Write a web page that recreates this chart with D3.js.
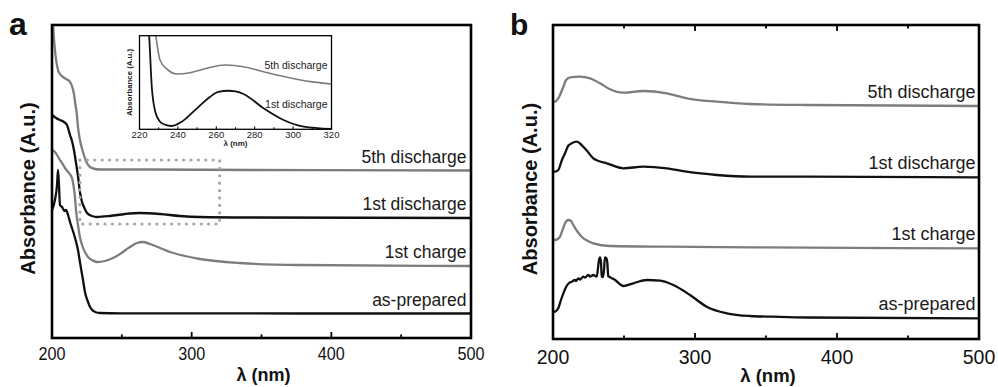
<!DOCTYPE html>
<html>
<head>
<meta charset="utf-8">
<script src="https://cdn.jsdelivr.net/npm/d3@7"></script>
<style>
  html, body { margin: 0; padding: 0; background: #fff; }
  svg { display: block; font-family: "Liberation Sans", Arial, sans-serif; }
</style>
</head>
<body>
<svg id="chart" width="998" height="387"></svg>
<script>
// ---------------- DATA ----------------
const seriesNames = ["5th discharge", "1st discharge", "1st charge", "as-prepared"];
const wavelengthTicks = [200, 300, 400, 500];
const wavelengthMinorTicks = [250, 350, 450];
const insetTicks = [220, 240, 260, 280, 300, 320];
const insetMinorTicks = [230, 250, 270, 290, 310];
const zoomBoxLambda = [220, 320];
const zoomBoxAbs = [1.14, 1.78];

// Panel a
const aFifthDisLambda = [200, 200.7, 202.1, 204.3, 205.7, 207.9, 210.0, 211.5, 212.9, 214.3, 215.7, 216.5, 217.9, 218.6, 220.0, 222.2, 224.3, 227.2, 230.8, 234.4, 270, 341.7, 500];
const aFifthDisAbs    = [3.30, 3.13, 2.88, 2.68, 2.64, 2.61, 2.59, 2.58, 2.56, 2.52, 2.44, 2.36, 2.22, 2.11, 1.98, 1.86, 1.77, 1.71, 1.69, 1.685, 1.685, 1.68, 1.675];

const aFirstDisLambda = [200, 202.9, 205.7, 208.6, 210.7, 212.9, 214.3, 215.7, 217.2, 218.6, 220.0, 221.5, 222.9, 225.1, 228.6, 232.2, 241.5, 252.3, 263.0, 277.3, 291.6, 305.9, 341.7, 500];
const aFirstDisAbs    = [2.23, 2.20, 2.18, 2.16, 2.13, 2.03, 1.97, 1.88, 1.75, 1.62, 1.46, 1.36, 1.31, 1.25, 1.22, 1.21, 1.22, 1.24, 1.25, 1.24, 1.22, 1.21, 1.205, 1.20];

const aFirstChgLambda = [200, 202.1, 203.6, 205.7, 207.2, 209.3, 211.5, 213.6, 215.0, 216.5, 217.2, 218.6, 220.0, 221.5, 223.6, 225.8, 228.6, 232.2, 237.9, 243.7, 248.7, 255.8, 260.8, 265.1, 270.2, 277.3, 284.5, 295.2, 305.9, 334.6, 377.5, 500];
const aFirstChgAbs    = [1.88, 1.86, 1.83, 1.78, 1.75, 1.70, 1.66, 1.62, 1.56, 1.40, 1.28, 1.13, 1.01, 0.93, 0.86, 0.81, 0.78, 0.76, 0.77, 0.80, 0.84, 0.91, 0.95, 0.96, 0.94, 0.90, 0.86, 0.82, 0.79, 0.75, 0.73, 0.72];

const aAsPrepLambda = [200, 202.1, 203.6, 204.3, 205.0, 205.7, 207.2, 208.0, 209.0, 210.0, 211.5, 212.9, 214.3, 216.5, 218.6, 220.0, 222.2, 223.6, 225.8, 227.2, 230.8, 234.4, 248.7, 377.5, 500];
const aAsPrepAbs    = [1.28, 1.38, 1.53, 1.68, 1.53, 1.33, 1.31, 1.29, 1.27, 1.28, 1.23, 1.16, 1.10, 1.00, 0.88, 0.76, 0.58, 0.46, 0.36, 0.31, 0.26, 0.25, 0.247, 0.245, 0.245];

// Inset of panel a (zoom of 1st & 5th discharge)
const inFifthLambda = [228.0, 228.5, 230.7, 234.2, 239.4, 246.4, 255.1, 264.6, 274.2, 284.6, 296.9, 309.0, 320];
const inFifthAbs    = [1.08, 1.00, 0.74, 0.645, 0.591, 0.605, 0.652, 0.687, 0.669, 0.615, 0.556, 0.509, 0.484];
const inFirstLambda = [224.6, 225.0, 226.4, 228.0, 230.7, 233.0, 236.8, 242.0, 249.9, 256.8, 261.0, 266.4, 270.0, 274.2, 284.6, 295.0, 305.5, 320];
const inFirstAbs    = [1.10, 1.00, 0.455, 0.206, 0.081, 0.051, 0.035, 0.081, 0.224, 0.348, 0.399, 0.412, 0.404, 0.377, 0.224, 0.099, 0.028, 0.003];

// Panel b
const bFifthDisLambda = [200, 201.4, 203.7, 207.3, 209.2, 212.0, 219.0, 226.1, 233.1, 240.1, 249.5, 263.6, 280.1, 294.2, 315.3, 338.7, 378.7, 500];
const bFifthDisAbs    = [2.38, 2.373, 2.407, 2.523, 2.59, 2.617, 2.623, 2.607, 2.557, 2.497, 2.463, 2.48, 2.457, 2.407, 2.373, 2.35, 2.34, 2.33];

const bFirstDisLambda = [200, 201.4, 203.7, 206.3, 208.5, 210.6, 213.2, 216.7, 219.0, 221.3, 224.6, 228.4, 233.1, 237.8, 249.5, 263.6, 280.1, 294.2, 315.3, 338.7, 378.7, 500];
const bFirstDisAbs    = [1.68, 1.673, 1.69, 1.79, 1.857, 1.93, 1.957, 1.973, 1.955, 1.923, 1.87, 1.807, 1.775, 1.757, 1.707, 1.723, 1.707, 1.673, 1.64, 1.623, 1.623, 1.617];

const bFirstChgLambda = [200, 201.4, 204.9, 207.0, 208.5, 210.8, 212.7, 214.3, 216.9, 220.2, 223.9, 228.4, 240.1, 280.1, 338.7, 500];
const bFirstChgAbs    = [0.99, 0.99, 1.023, 1.10, 1.157, 1.19, 1.18, 1.14, 1.08, 1.023, 0.985, 0.957, 0.93, 0.923, 0.917, 0.907];

const bAsPrepLambda = [200, 201.4, 203.7, 205.6, 207.3, 209.6, 211.3, 213.2, 215.5, 216.2, 217.8, 219.0, 221.3, 222.5, 224.9, 226.1, 228.4, 230.8, 231.7, 232.4, 233.1, 233.8, 234.3, 235.2, 235.9, 236.6, 237.5, 238.2, 238.9, 239.6, 243.7, 249.5, 256.5, 266.0, 275.4, 284.7, 296.5, 308.2, 322.3, 338.7, 354.9, 378.7, 500];
const bAsPrepAbs    = [0.27, 0.273, 0.307, 0.39, 0.457, 0.53, 0.56, 0.573, 0.59, 0.58, 0.607, 0.595, 0.623, 0.615, 0.64, 0.625, 0.64, 0.623, 0.71, 0.79, 0.817, 0.77, 0.623, 0.62, 0.69, 0.817, 0.81, 0.77, 0.63, 0.623, 0.59, 0.53, 0.557, 0.59, 0.583, 0.54, 0.44, 0.323, 0.257, 0.23, 0.223, 0.215, 0.207];

const seriesColors = ["#7d7d7d", "#111111", "#7d7d7d", "#111111"];

// ---------------- DRAW ----------------
const svg = d3.select("#chart");
const FONT = "'Liberation Sans', Arial, sans-serif";

function zip(xs, ys) { return xs.map((x, i) => [x, ys[i]]); }

function drawPanel(cfg) {
  const { id, left, right, top, bottom, yMax, series, tickFont, tickLen, labelFont, topTicks, labelRight, tickLabelY, tickCondense, xlabY, xlabFont, ylabX } = cfg;
  const x = d3.scaleLinear().domain([200, 500]).range([left, right]);
  const y = d3.scaleLinear().domain([0, yMax]).range([bottom, top]);
  const g = svg.append("g");

  g.append("clipPath").attr("id", "clip" + id)
    .append("rect").attr("x", left).attr("y", top).attr("width", right - left).attr("height", bottom - top);

  const line = d3.line().x(d => x(d[0])).y(d => y(d[1])).curve(d3.curveMonotoneX);
  const cg = g.append("g").attr("clip-path", `url(#clip${id})`);
  series.forEach((s, i) => {
    cg.append("path").datum(zip(s.lambda, s.abs))
      .attr("fill", "none").attr("stroke", seriesColors[i]).attr("stroke-width", 2.3)
      .attr("stroke-linejoin", "round").attr("d", line);
    const last = s.abs[s.abs.length - 1];
    g.append("text").attr("x", labelRight).attr("y", y(last) - 8)
      .attr("text-anchor", "end").attr("font-family", FONT).attr("font-size", labelFont)
      .attr("fill", "#1a1a1a").text(seriesNames[i]);
  });

  // ticks
  const tg = g.append("g").attr("stroke", "#000").attr("stroke-width", 1.8);
  wavelengthTicks.slice(1, -1).forEach(t => {
    tg.append("line").attr("x1", x(t)).attr("x2", x(t)).attr("y1", bottom).attr("y2", bottom - tickLen);
    if (topTicks) tg.append("line").attr("x1", x(t)).attr("x2", x(t)).attr("y1", top).attr("y2", top + tickLen);
  });
  wavelengthMinorTicks.forEach(t => {
    tg.append("line").attr("x1", x(t)).attr("x2", x(t)).attr("y1", bottom).attr("y2", bottom - tickLen * 0.6);
    if (topTicks) tg.append("line").attr("x1", x(t)).attr("x2", x(t)).attr("y1", top).attr("y2", top + tickLen * 0.6);
  });

  // frame
  g.append("rect").attr("x", left).attr("y", top).attr("width", right - left).attr("height", bottom - top)
    .attr("fill", "none").attr("stroke", "#000").attr("stroke-width", 2.6);

  // tick labels
  wavelengthTicks.forEach(t => {
    const tx = g.append("text").attr("x", x(t)).attr("y", tickLabelY)
      .attr("text-anchor", "middle").attr("font-family", FONT).attr("font-size", tickFont)
      .attr("fill", "#111").text(t);
    if (tickCondense) tx.attr("textLength", tickCondense).attr("lengthAdjust", "spacingAndGlyphs");
  });

  g.append("text").attr("x", (left + right) / 2 + 2).attr("y", xlabY)
    .attr("text-anchor", "middle").attr("font-family", FONT).attr("font-weight", "bold")
    .attr("font-size", xlabFont).attr("fill", "#111").text("λ (nm)");

  g.append("text").attr("transform", `translate(${ylabX},${(top + bottom) / 2 + 7}) rotate(-90)`)
    .attr("text-anchor", "middle").attr("font-family", FONT).attr("font-weight", "bold")
    .attr("font-size", 20).attr("fill", "#111").text("Absorbance (A.u.)");

  return { x, y, g };
}

// Panel a
const pa = drawPanel({
  id: "a", left: 52, right: 471, top: 25, bottom: 338, yMax: 3.13,
  series: [
    { lambda: aFifthDisLambda, abs: aFifthDisAbs },
    { lambda: aFirstDisLambda, abs: aFirstDisAbs },
    { lambda: aFirstChgLambda, abs: aFirstChgAbs },
    { lambda: aAsPrepLambda, abs: aAsPrepAbs }
  ],
  tickFont: 18, tickLen: 6, labelFont: 17.5, topTicks: false, labelRight: 466.5,
  tickLabelY: 360, tickCondense: 27, xlabY: 381, xlabFont: 18, ylabX: 35
});

// zoom box (dotted)
pa.g.append("rect")
  .attr("x", pa.x(zoomBoxLambda[0])).attr("y", pa.y(zoomBoxAbs[1]))
  .attr("width", pa.x(zoomBoxLambda[1]) - pa.x(zoomBoxLambda[0]))
  .attr("height", pa.y(zoomBoxAbs[0]) - pa.y(zoomBoxAbs[1]))
  .attr("fill", "none").attr("stroke", "#a8a8a8").attr("stroke-width", 3.2)
  .attr("stroke-linecap", "round").attr("stroke-dasharray", "0.1 7.3");

// Inset
(function () {
  const L = 139.5, R = 331.5, T = 35.7, B = 129.3;
  const xi = d3.scaleLinear().domain([220, 320]).range([L, R]);
  const yi = d3.scaleLinear().domain([0, 1]).range([B, T]);
  const g = svg.append("g");
  g.append("rect").attr("x", L).attr("y", T).attr("width", R - L).attr("height", B - T).attr("fill", "#fff");
  g.append("clipPath").attr("id", "clipInset").append("rect")
    .attr("x", L).attr("y", T).attr("width", R - L).attr("height", B - T);
  const line = d3.line().x(d => xi(d[0])).y(d => yi(d[1])).curve(d3.curveMonotoneX);
  const cg = g.append("g").attr("clip-path", "url(#clipInset)");
  cg.append("path").datum(zip(inFifthLambda, inFifthAbs)).attr("fill", "none")
    .attr("stroke", seriesColors[0]).attr("stroke-width", 1.6).attr("d", line);
  cg.append("path").datum(zip(inFirstLambda, inFirstAbs)).attr("fill", "none")
    .attr("stroke", seriesColors[1]).attr("stroke-width", 1.8).attr("d", line);

  insetTicks.slice(1, -1).forEach(t => g.append("line").attr("x1", xi(t)).attr("x2", xi(t))
    .attr("y1", B).attr("y2", B - 3).attr("stroke", "#000").attr("stroke-width", 1));
  insetMinorTicks.forEach(t => g.append("line").attr("x1", xi(t)).attr("x2", xi(t))
    .attr("y1", B).attr("y2", B - 2).attr("stroke", "#000").attr("stroke-width", 1));

  g.append("rect").attr("x", L).attr("y", T).attr("width", R - L).attr("height", B - T)
    .attr("fill", "none").attr("stroke", "#000").attr("stroke-width", 1.3);

  insetTicks.forEach(t => g.append("text").attr("x", xi(t)).attr("y", 137.5)
    .attr("text-anchor", "middle").attr("font-family", FONT).attr("font-size", 9.5)
    .attr("fill", "#222").text(t));
  g.append("text").attr("x", (L + R) / 2).attr("y", 146).attr("text-anchor", "middle")
    .attr("font-family", FONT).attr("font-weight", "bold").attr("font-size", 8).attr("fill", "#222").text("λ (nm)");
  g.append("text").attr("transform", `translate(${L - 8},${(T + B) / 2}) rotate(-90)`)
    .attr("text-anchor", "middle").attr("font-family", FONT).attr("font-weight", "bold")
    .attr("font-size", 7.8).attr("fill", "#222").text("Absorbance (A.u.)");

  g.append("text").attr("x", R - 4).attr("y", yi(inFifthAbs[inFifthAbs.length - 1]) - 15)
    .attr("text-anchor", "end").attr("font-family", FONT).attr("font-size", 10.5).attr("fill", "#222").text(seriesNames[0]);
  g.append("text").attr("x", R - 4).attr("y", yi(inFirstAbs[inFirstAbs.length - 1]) - 21)
    .attr("text-anchor", "end").attr("font-family", FONT).attr("font-size", 10.5).attr("fill", "#222").text(seriesNames[1]);
})();

// Panel b
drawPanel({
  id: "b", left: 553, right: 979, top: 25, bottom: 339, yMax: 3.14,
  series: [
    { lambda: bFifthDisLambda, abs: bFifthDisAbs },
    { lambda: bFirstDisLambda, abs: bFirstDisAbs },
    { lambda: bFirstChgLambda, abs: bFirstChgAbs },
    { lambda: bAsPrepLambda, abs: bAsPrepAbs }
  ],
  tickFont: 19.5, tickLen: 6, labelFont: 18, topTicks: true, labelRight: 975.5,
  tickLabelY: 363.5, tickCondense: null, xlabY: 382, xlabFont: 18.5, ylabX: 537
});

// panel letters
svg.append("text").attr("x", 9).attr("y", 35).attr("font-family", FONT).attr("font-weight", "bold")
  .attr("font-size", 32).attr("fill", "#111").text("a");
svg.append("text").attr("x", 510).attr("y", 35).attr("font-family", FONT).attr("font-weight", "bold")
  .attr("font-size", 30).attr("fill", "#111").text("b");
</script>
</body>
</html>
